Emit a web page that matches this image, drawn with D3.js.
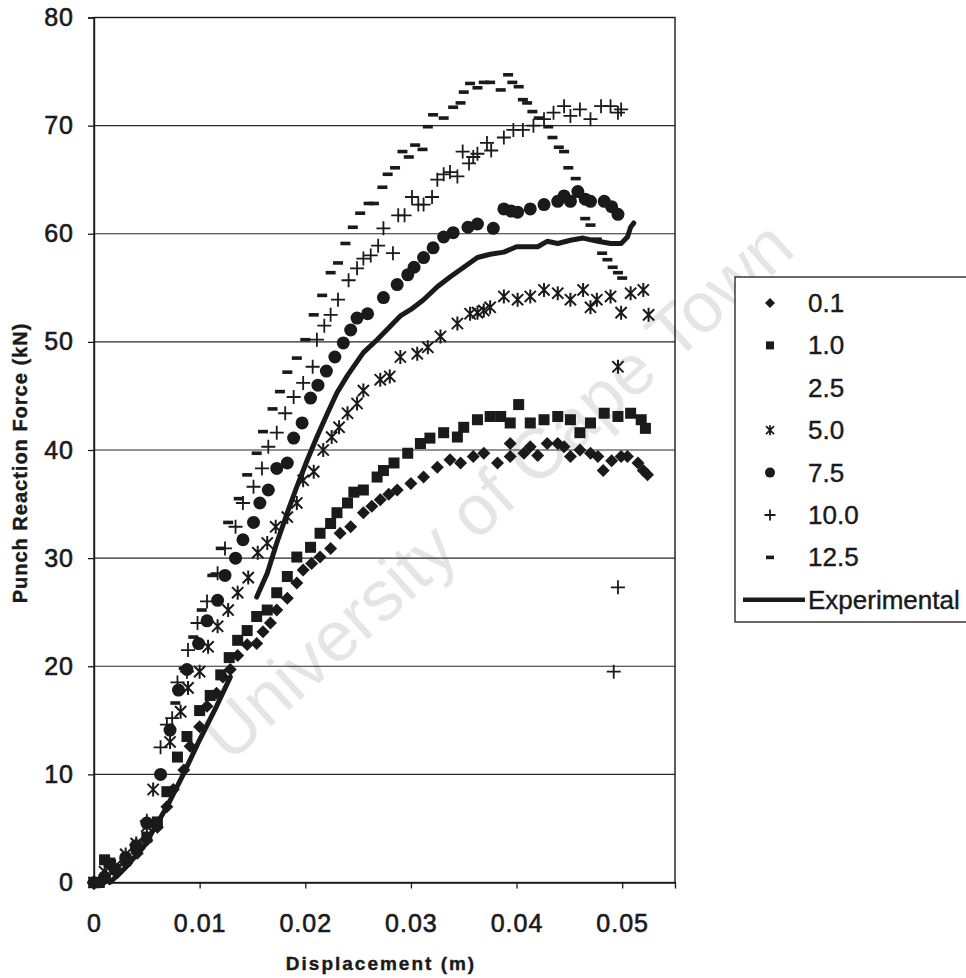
<!DOCTYPE html>
<html>
<head>
<meta charset="utf-8">
<script src="https://cdn.jsdelivr.net/npm/d3@7/dist/d3.min.js"></script>
<style>
  html, body { margin: 0; padding: 0; background: #fff; }
  svg { display: block; }
  text { font-family: "Liberation Sans", Arial, sans-serif; fill: #1a1a1a; }
</style>
</head>
<body>
<svg id="chart" width="966" height="978"></svg>
<script>
// Punch reaction force vs displacement, one series per loading rate plus the experimental curve.
// Each point is [displacement (m), force (kN)].
const series01 = [[0,0],[0.0009,0.2],[0.0022,0.9],[0.0031,1.8],[0.0041,2.7],[0.005,3.9],[0.006,5.1],[0.0069,7.0],[0.0075,8.6],[0.0085,10.4],[0.0091,12.6],[0.0100,14.4],[0.0107,16.3],[0.0116,17.5],[0.0122,19.0],[0.0129,19.7],[0.0136,21.0],[0.0145,22.0],[0.0154,22.1],[0.0160,23.2],[0.0167,24.0],[0.0173,25.2],[0.0183,26.3],[0.0192,27.7],[0.0198,28.9],[0.0206,29.5],[0.0214,30.1],[0.0224,30.9],[0.0233,32.3],[0.0243,32.9],[0.0255,34.2],[0.0263,34.8],[0.0271,35.4],[0.0279,35.9],[0.0287,36.3],[0.0300,36.9],[0.0312,37.5],[0.0325,38.4],[0.0337,39.1],[0.0347,38.8],[0.0359,39.4],[0.0369,39.7],[0.0382,38.8],[0.0394,39.4],[0.0394,40.6],[0.0407,39.7],[0.0413,40.3],[0.0420,39.5],[0.0429,40.6],[0.0439,40.6],[0.0445,40.3],[0.0451,39.4],[0.0460,40.0],[0.0470,39.7],[0.0477,39.4],[0.0482,38.1],[0.0490,39.0],[0.0499,39.4],[0.0505,39.4],[0.0515,38.8],[0.0520,38.1],[0.0524,37.7]];

const series10 = [[0,0],[0.0005,0],[0.001,2.1],[0.0015,1.8],[0.002,1.2],[0.003,2.0],[0.004,3.2],[0.005,4.2],[0.006,5.6],[0.0069,8.4],[0.0079,11.6],[0.0088,13.5],[0.0100,15.9],[0.0110,17.3],[0.0120,19.2],[0.0128,20.8],[0.0136,22.4],[0.0145,23.3],[0.0154,24.6],[0.0164,25.2],[0.0173,26.8],[0.0183,28.3],[0.0192,30.1],[0.0205,31.0],[0.0214,32.3],[0.0224,33.2],[0.0230,34.2],[0.0240,35.1],[0.0246,36.1],[0.0255,36.3],[0.0268,37.5],[0.0274,38.1],[0.0284,38.8],[0.0297,39.7],[0.0309,40.6],[0.0318,41.1],[0.0331,41.6],[0.0344,41.2],[0.0350,42.1],[0.0363,42.8],[0.0375,43.1],[0.0385,43.1],[0.0394,42.5],[0.0402,44.2],[0.0413,42.5],[0.0426,42.8],[0.0439,43.1],[0.0451,42.8],[0.0460,41.6],[0.0470,42.5],[0.0483,43.4],[0.0496,43.1],[0.0508,43.4],[0.0518,42.8],[0.0522,42.0]];

const series25 = [];

const series50 = [[0,0],[0.001,1.0],[0.002,1.5],[0.003,2.6],[0.004,3.6],[0.005,5.2],[0.0056,8.6],[0.0072,13.0],[0.0082,15.8],[0.0089,18.0],[0.0100,19.5],[0.0108,21.8],[0.0117,23.7],[0.0127,25.2],[0.0136,26.8],[0.0146,28.2],[0.0155,30.5],[0.0164,31.4],[0.0172,32.9],[0.0183,33.8],[0.0192,35.1],[0.0198,37.2],[0.0208,38.0],[0.0217,40.0],[0.0225,41.2],[0.0232,42.1],[0.0240,43.4],[0.0249,44.3],[0.0255,45.5],[0.0271,46.5],[0.0280,46.8],[0.0290,48.6],[0.0306,48.9],[0.0316,49.5],[0.0328,50.5],[0.0344,51.7],[0.0356,52.6],[0.0363,52.7],[0.0369,52.9],[0.0375,53.2],[0.0388,54.2],[0.0401,53.9],[0.0413,54.2],[0.0426,54.8],[0.0439,54.5],[0.0451,53.9],[0.0463,54.8],[0.0470,53.2],[0.0476,53.9],[0.0489,54.2],[0.0496,47.7],[0.0499,52.7],[0.0508,54.5],[0.0520,54.8],[0.0525,52.5]];

const series75 = [[0,0],[0.001,0.5],[0.002,1.2],[0.003,2.3],[0.004,3.4],[0.005,5.5],[0.0063,10.0],[0.0072,14.1],[0.0080,17.8],[0.0088,19.7],[0.0099,22.1],[0.0107,24.2],[0.0117,26.1],[0.0124,28.4],[0.0134,30.0],[0.0141,31.7],[0.0151,33.3],[0.0157,35.1],[0.0165,36.3],[0.0173,38.3],[0.0183,38.8],[0.0189,41.1],[0.0197,42.5],[0.0205,44.8],[0.0212,46.0],[0.0220,47.3],[0.0228,48.6],[0.0236,49.9],[0.0243,51.1],[0.0249,52.2],[0.0259,52.6],[0.0274,54.1],[0.0287,55.3],[0.0297,56.2],[0.0303,56.9],[0.0312,57.8],[0.0321,58.7],[0.0331,59.7],[0.0340,60.1],[0.0354,60.6],[0.0363,60.9],[0.0378,60.5],[0.0388,62.3],[0.0395,62.1],[0.0401,62.0],[0.0413,62.3],[0.0426,62.7],[0.0439,63.0],[0.0445,63.5],[0.0451,63.0],[0.0458,63.9],[0.0465,63.2],[0.0470,63.0],[0.0483,63.0],[0.0490,62.5],[0.0496,61.8]];

const series100 = [[0,0],[0.002,1.2],[0.004,3.5],[0.005,5.7],[0.0063,12.5],[0.0069,14.6],[0.0074,15.2],[0.0079,18.5],[0.0088,19.5],[0.0089,21.5],[0.0098,24.0],[0.0107,26.0],[0.0117,28.6],[0.0124,30.9],[0.0134,32.9],[0.0141,35.1],[0.0151,36.6],[0.0159,38.3],[0.0165,40.3],[0.0173,41.6],[0.0181,43.4],[0.0189,44.9],[0.0198,46.2],[0.0207,47.7],[0.0211,50.2],[0.0218,51.5],[0.0224,52.5],[0.0231,53.9],[0.0241,55.7],[0.0249,56.8],[0.0255,57.7],[0.0262,58.0],[0.0269,58.9],[0.0274,60.5],[0.0283,58.2],[0.0288,61.7],[0.0294,61.7],[0.0301,63.4],[0.0307,62.7],[0.0312,62.7],[0.0320,63.4],[0.0325,65.0],[0.0331,65.5],[0.0337,65.7],[0.0344,65.3],[0.0349,67.6],[0.0355,66.5],[0.0359,67.1],[0.0363,67.4],[0.0372,68.4],[0.0376,67.7],[0.0388,68.9],[0.0397,69.6],[0.0406,69.6],[0.0416,70.0],[0.0426,70.6],[0.0435,71.2],[0.0445,71.8],[0.0451,70.9],[0.0460,71.5],[0.0470,70.6],[0.0480,71.8],[0.0489,71.8],[0.0492,19.5],[0.0496,27.3],[0.0496,71.2],[0.0499,71.5]];

const series125 = [[0.0077,16.6],[0.0085,19.8],[0.0094,22.7],[0.0102,25.2],[0.0112,28.4],[0.0120,30.9],[0.0127,33.3],[0.0137,35.5],[0.0145,37.7],[0.0154,39.7],[0.0160,41.7],[0.0169,43.8],[0.0176,45.4],[0.0183,47.2],[0.0192,48.5],[0.0200,50.2],[0.0208,52.5],[0.0216,54.3],[0.0224,56.4],[0.0231,57.3],[0.0238,59.1],[0.0245,60.6],[0.0252,61.9],[0.0260,62.8],[0.0265,62.8],[0.0273,64.3],[0.0278,65.5],[0.0285,66.1],[0.0292,67.6],[0.0298,67.1],[0.0304,68.2],[0.0311,67.8],[0.0316,69.9],[0.0321,71.0],[0.0331,70.7],[0.0340,71.7],[0.0347,72.1],[0.0350,73.1],[0.0356,73.9],[0.0363,73.5],[0.0369,74.0],[0.0375,74.0],[0.0385,73.3],[0.0392,74.7],[0.0396,74.0],[0.0402,73.6],[0.0406,72.4],[0.0410,72.1],[0.0415,71.3],[0.0421,70.7],[0.0430,69.9],[0.0434,68.9],[0.0440,68.0],[0.0445,67.6],[0.0449,66.1],[0.0456,65.1],[0.0460,63.5],[0.0465,61.4],[0.0470,60.8],[0.0476,59.5],[0.0481,58.2],[0.0486,57.6],[0.0491,56.9],[0.0496,56.4],[0.0500,55.9]];

// Experimental curve; the null entry marks a gap in the recorded data.
const experimental = [[0.0015,0],[0.0028,1.2],[0.0047,3.3],[0.0069,7.0],[0.0085,10.1],[0.0100,13.2],[0.0116,16.3],[0.0129,19.0],null,[0.0154,26.4],[0.0164,28.6],[0.0173,31.4],[0.0183,34.2],[0.0192,36.6],[0.0202,39.1],[0.0211,41.2],[0.0221,43.4],[0.0230,45.3],[0.0240,46.9],[0.0255,49.0],[0.0268,50.2],[0.0280,51.4],[0.0290,52.4],[0.0300,53.0],[0.0312,53.9],[0.0325,55.1],[0.0337,56.0],[0.0350,56.9],[0.0363,57.8],[0.0375,58.1],[0.0388,58.3],[0.0400,58.8],[0.0420,58.8],[0.0429,59.3],[0.0439,59.1],[0.0451,59.4],[0.0463,59.6],[0.0477,59.3],[0.0489,59.1],[0.0499,59.1],[0.0505,59.7],[0.0508,60.6],[0.0511,61.0]];

const legendLabels = ["0.1", "1.0", "2.5", "5.0", "7.5", "10.0", "12.5", "Experimental"];
const xTicks = [0, 0.01, 0.02, 0.03, 0.04, 0.05];
const yTicks = [0, 10, 20, 30, 40, 50, 60, 70, 80];
const xTitle = "Displacement (m)";
const yTitle = "Punch Reaction Force (kN)";
const watermark = "University of Cape Town";

const ink = "#1a1a1a";
const svg = d3.select("#chart");

const x = d3.scaleLinear().domain([0, 0.055]).range([94, 675]);
const y = d3.scaleLinear().domain([0, 80]).range([882.5, 17.5]);

// Marker painters: each draws one symbol centred at (0,0) into a group.
const markers = {
  diamond: (g, s) => g.append("path").attr("d", d3.symbol(d3.symbolSquare, s * s * 0.5)()).attr("transform", "rotate(45)").attr("fill", ink),
  square: (g, s) => g.append("rect").attr("x", -s / 2).attr("y", -s / 2).attr("width", s).attr("height", s).attr("fill", ink),
  none: () => {},
  star: (g, s, w) => {
    const r = s / 2, d = r * 0.8;
    g.append("path").attr("d", `M${-d},${-d}L${d},${d}M${-d},${d}L${d},${-d}M0,${-r}L0,${r}`)
      .attr("stroke", ink).attr("stroke-width", w || 2).attr("fill", "none");
  },
  circle: (g, s) => g.append("circle").attr("r", s / 2).attr("fill", ink),
  plus: (g, s, w) => {
    const r = s / 2;
    g.append("path").attr("d", `M${-r},0L${r},0M0,${-r}L0,${r}`)
      .attr("stroke", ink).attr("stroke-width", w || 1.8).attr("fill", "none");
  },
  dash: (g, s) => g.append("rect").attr("x", -s / 2).attr("y", -1.8).attr("width", s).attr("height", 3.6).attr("fill", ink)
};

const seriesDefs = [
  { data: series01, marker: "diamond", size: 13, legendSize: 10 },
  { data: series10, marker: "square", size: 11, legendSize: 8 },
  { data: series25, marker: "none", size: 0, legendSize: 0 },
  { data: series50, marker: "star", size: 14, legendSize: 10 },
  { data: series75, marker: "circle", size: 13, legendSize: 10 },
  { data: series100, marker: "plus", size: 14, legendSize: 11 },
  { data: series125, marker: "dash", size: 10, legendSize: 8 }
];

// Watermark behind the data
svg.append("text")
  .attr("transform", "translate(497,490) rotate(-42)")
  .attr("text-anchor", "middle")
  .attr("dominant-baseline", "central")
  .style("font-size", "71px")
  .style("fill", "#e5e5e5")
  .text(watermark);

// Horizontal gridlines
svg.append("g").selectAll("line").data(yTicks).join("line")
  .attr("x1", x(0)).attr("x2", x(0.055))
  .attr("y1", d => y(d)).attr("y2", d => y(d))
  .attr("stroke", "#2a2a2a").attr("stroke-width", 1.1);

// Plot border
svg.append("rect")
  .attr("x", x(0)).attr("y", y(80))
  .attr("width", x(0.055) - x(0)).attr("height", y(0) - y(80))
  .attr("fill", "none").attr("stroke", "#1a1a1a").attr("stroke-width", 1.4);

// Axes
const xAxis = d3.axisBottom(x).tickValues(xTicks).tickSize(6).tickPadding(26)
  .tickFormat(d => d === 0 ? "0" : d3.format(".2f")(d));
const yAxis = d3.axisLeft(y).tickValues(yTicks).tickSize(6).tickPadding(14);

const gx = svg.append("g").attr("transform", `translate(0,${y(0)})`).call(xAxis);
const gy = svg.append("g").attr("transform", `translate(${x(0)},0)`).call(yAxis);
[gx, gy].forEach(g => {
  g.select(".domain").attr("stroke", ink).attr("stroke-width", 1.4);
  g.selectAll(".tick line").attr("stroke", ink).attr("stroke-width", 1.3);
  g.selectAll(".tick text")
    .style("font-family", "'Liberation Sans', Arial, sans-serif")
    .style("font-size", "25px")
    .style("letter-spacing", "1px")
    .attr("fill", ink)
    .attr("stroke", ink).attr("stroke-width", 0.6);
});

// Axis titles
svg.append("text")
  .attr("x", 381).attr("y", 970)
  .attr("text-anchor", "middle")
  .style("font-size", "19px").style("font-weight", "bold").style("letter-spacing", "2px")
  .attr("stroke", ink).attr("stroke-width", 0.4)
  .text(xTitle);

svg.append("text")
  .attr("transform", "translate(27,463) rotate(-90)")
  .attr("text-anchor", "middle")
  .style("font-size", "20px").style("font-weight", "bold").style("letter-spacing", "1px")
  .attr("stroke", ink).attr("stroke-width", 0.4)
  .text(yTitle);

// Experimental curve
const line = d3.line().defined(d => d !== null).x(d => x(d[0])).y(d => y(d[1]));
svg.append("path").datum(experimental)
  .attr("d", line)
  .attr("fill", "none").attr("stroke", ink).attr("stroke-width", 5)
  .attr("stroke-linejoin", "round").attr("stroke-linecap", "round");

// Scatter series
seriesDefs.forEach(def => {
  const g = svg.append("g");
  g.selectAll("g").data(def.data).join("g")
    .attr("transform", d => `translate(${x(d[0])},${y(d[1])})`)
    .each(function () { markers[def.marker](d3.select(this), def.size); });
});

// Legend
const legend = svg.append("g");
legend.append("rect")
  .attr("x", 735).attr("y", 277).attr("width", 250).attr("height", 345)
  .attr("fill", "#fff").attr("stroke", ink).attr("stroke-width", 1.3);

const rowY = i => 303 + i * 42.4;
legendLabels.forEach((label, i) => {
  const cy = rowY(i);
  if (i < seriesDefs.length) {
    const def = seriesDefs[i];
    const mg = legend.append("g").attr("transform", `translate(770,${cy})`);
    markers[def.marker](mg, def.legendSize, 1.8);
  } else {
    legend.append("line").attr("x1", 743).attr("x2", 805).attr("y1", cy).attr("y2", cy)
      .attr("stroke", ink).attr("stroke-width", 4.5);
  }
  legend.append("text")
    .attr("x", 808).attr("y", cy)
    .attr("dominant-baseline", "central")
    .style("font-size", "26px")
    .attr("stroke", ink).attr("stroke-width", 0.4)
    .text(label);
});
</script>
</body>
</html>
